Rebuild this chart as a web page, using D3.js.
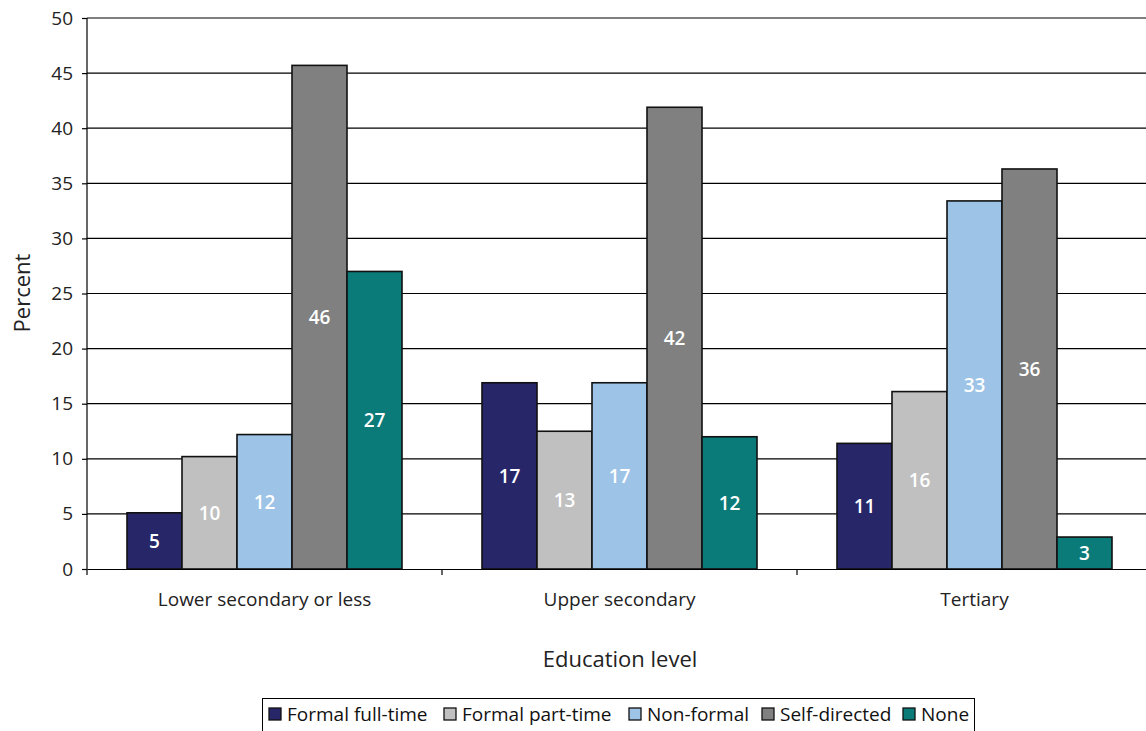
<!DOCTYPE html>
<html>
<head>
<meta charset="utf-8">
<script src="https://cdn.jsdelivr.net/npm/d3@7"></script>
<style>
  html, body { margin: 0; padding: 0; background: #fff; }
  svg { display: block; font-family: "Open Sans", "DejaVu Sans", sans-serif; }
</style>
</head>
<body>
<svg id="chart" width="1146" height="731"></svg>
<script>
// Share of adults by learning type, per education level (percent)
const categories = ["Lower secondary or less", "Upper secondary", "Tertiary"];
const seriesNames = ["Formal full-time", "Formal part-time", "Non-formal", "Self-directed", "None"];
const formalFullTime = [5.1, 16.9, 11.4];
const formalPartTime = [10.2, 12.5, 16.1];
const nonFormal      = [12.2, 16.9, 33.4];
const selfDirected   = [45.7, 41.9, 36.3];
const none           = [27.0, 12.0, 2.9];
const yTicks = [0, 5, 10, 15, 20, 25, 30, 35, 40, 45, 50];
const colors = ["#262669", "#c0c0c0", "#9dc3e6", "#808080", "#0b7b79"];

const seriesValues = [formalFullTime, formalPartTime, nonFormal, selfDirected, none];

const svg = d3.select("#chart");
const margin = { left: 87, right: -6, top: 18, bottom: 162 };
const W = 1146, H = 731;
const plotW = W - margin.left - margin.right;
const plotH = H - margin.top - margin.bottom;

const g = svg.append("g").attr("transform", `translate(${margin.left},${margin.top})`);

const x0 = d3.scaleBand().domain(categories).range([0, plotW]).paddingInner(0).paddingOuter(0);
const x1 = d3.scaleBand().domain(seriesNames).range([40, x0.bandwidth() - 40]).padding(0);
const y = d3.scaleLinear().domain([0, 50]).range([plotH, 0]);

// horizontal gridlines
g.append("g").selectAll("line").data(yTicks.filter(d => d > 0)).join("line")
  .attr("x1", 0).attr("x2", plotW)
  .attr("y1", d => y(d)).attr("y2", d => y(d))
  .attr("stroke", "#000").attr("stroke-width", 1.2);

// bars with centred value labels
const groups = g.append("g").selectAll("g").data(categories).join("g")
  .attr("transform", d => `translate(${x0(d)},0)`);

groups.each(function(cat, ci) {
  const grp = d3.select(this);
  const rows = seriesNames.map((s, si) => ({ s, si, v: seriesValues[si][ci] }));
  grp.selectAll("rect").data(rows).join("rect")
    .attr("x", d => x1(d.s))
    .attr("y", d => y(d.v))
    .attr("width", x1.bandwidth())
    .attr("height", d => y(0) - y(d.v))
    .attr("fill", d => colors[d.si])
    .attr("stroke", "#111")
    .attr("stroke-width", 1.6);
  grp.selectAll("text").data(rows).join("text")
    .attr("x", d => x1(d.s) + x1.bandwidth() / 2)
    .attr("y", d => (y(d.v) + y(0)) / 2)
    .attr("dy", "0.36em")
    .attr("text-anchor", "middle")
    .attr("fill", "#fff")
    .attr("font-size", 19)
    .attr("font-weight", 600)
    .text(d => Math.round(d.v));
});

// y axis
const yAxis = g.append("g").call(d3.axisLeft(y).tickValues(yTicks).tickSize(5).tickPadding(9));
yAxis.select(".domain").attr("stroke", "#000").attr("stroke-width", 1.2).attr("d", `M0,${plotH + 6}V0`);
yAxis.selectAll(".tick line").attr("stroke", "#000").attr("stroke-width", 1.2);
yAxis.selectAll("text").attr("font-size", 19).attr("fill", "#222").attr("font-family", "Open Sans, sans-serif");

// x axis
const xAxis = g.append("g").attr("transform", `translate(0,${plotH})`)
  .call(d3.axisBottom(x0).tickSize(0).tickPadding(24));
xAxis.select(".domain").attr("stroke", "#000").attr("stroke-width", 1.2);
xAxis.selectAll("text").attr("font-size", 19).attr("fill", "#222").attr("font-family", "Open Sans, sans-serif");
// category separators
g.append("g").selectAll("line").data(categories.slice(1)).join("line")
  .attr("x1", d => x0(d)).attr("x2", d => x0(d))
  .attr("y1", plotH).attr("y2", plotH + 6)
  .attr("stroke", "#000").attr("stroke-width", 1.2);

// axis titles
svg.append("text")
  .attr("x", 620).attr("y", 667)
  .attr("text-anchor", "middle").attr("font-size", 22).attr("fill", "#222")
  .text("Education level");
svg.append("text")
  .attr("transform", `translate(30,${293}) rotate(-90)`)
  .attr("text-anchor", "middle").attr("font-size", 22).attr("fill", "#222")
  .text("Percent");

// legend
const legend = svg.append("g");
legend.append("rect").attr("x", 262.5).attr("y", 698.5).attr("width", 712).attr("height", 40)
  .attr("fill", "#fff").attr("stroke", "#000").attr("stroke-width", 1);
const itemX = [269, 444, 629, 762, 903];
const items = legend.selectAll("g.item").data(seriesNames).join("g").attr("class", "item")
  .attr("transform", (d, i) => `translate(${itemX[i]},714)`);
items.append("rect").attr("x", 0).attr("y", -6).attr("width", 12).attr("height", 12)
  .attr("fill", (d, i) => colors[i]).attr("stroke", "#111").attr("stroke-width", 1.3);
items.append("text").attr("x", 18).attr("y", 0).attr("dy", "0.36em")
  .attr("font-size", 19).attr("fill", "#111").text(d => d);
</script>
</body>
</html>
